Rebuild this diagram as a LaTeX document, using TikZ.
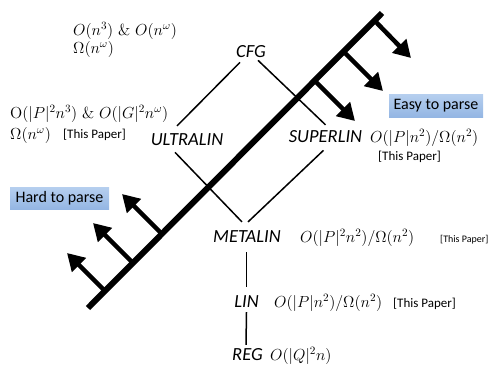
\RequirePackage{fix-cm}
\documentclass[tikz,border=0pt]{standalone}
\usepackage[no-math]{fontspec}
\newfontfamily\calib{Carlito}
\usetikzlibrary{arrows.meta,calc}
\definecolor{boxtop}{HTML}{B6CFEF}
\definecolor{boxbot}{HTML}{94B6E3}
\begin{document}
\begin{tikzpicture}[x=1pt,y=-1pt,
  lbl/.style={font=\calib\itshape\fontsize{18.5}{20}\selectfont, inner sep=0pt, anchor=base},
  mth/.style={font=\fontsize{16}{18}\selectfont, inner sep=0pt, anchor=base west},
  paper/.style={font=\calib\fontsize{13}{15}\selectfont, inner sep=0pt, anchor=base west},
  tagbox/.style={font=\calib\fontsize{16}{18}\selectfont, top color=boxtop, bottom color=boxbot, draw=none, inner sep=0pt},
  edge/.style={line width=1.5pt},
  mainline/.style={line width=6pt},
  bigarrow/.style={line width=4.5pt, -{Triangle[width=19pt,length=17pt]}},
]
\clip (0,0) rectangle (491,367);

% main divider
\coordinate (L0) at (88,308);
\coordinate (L1) at (382,13);
\draw[mainline] (L0) -- (L1);

% easy side arrows
\coordinate (r1s) at (375,21);  \coordinate (r1e) at (411,58);
\coordinate (r2s) at (344,52);  \coordinate (r2e) at (383,91);
\coordinate (r3s) at (315,81);  \coordinate (r3e) at (355,121);
\draw[bigarrow] (r1s) -- (r1e);
\draw[bigarrow] (r2s) -- (r2e);
\draw[bigarrow] (r3s) -- (r3e);

% hard side arrows
\coordinate (l1s) at (162,234); \coordinate (l1e) at (122,194);
\coordinate (l2s) at (133,263); \coordinate (l2e) at (93,223);
\coordinate (l3s) at (105,291); \coordinate (l3e) at (67,253);
\draw[bigarrow] (l1s) -- (l1e);
\draw[bigarrow] (l2s) -- (l2e);
\draw[bigarrow] (l3s) -- (l3e);

% tags
\node[tagbox, minimum width=94pt, minimum height=23pt] (easy) at (436,105.5) {Easy to parse};
\node[tagbox, minimum width=99pt, minimum height=22pt] (hard) at (59.5,198) {Hard to parse};

% class labels
\node[lbl] (cfg) at (251,57) {CFG};
\node[lbl] (ultra) at (187,145) {ULTRALIN};
\node[lbl] (super) at (325.5,142) {SUPERLIN};
\node[lbl] (meta) at (247,242) {METALIN};
\node[lbl] (lin) at (246.5,307) {LIN};
\node[lbl] (reg) at (247.5,360) {REG};

% hierarchy edges
\draw[edge] ([shift={(-11,5)}]cfg.south) -- ([shift={(-10,-7)}]ultra.north);
\draw[edge] ([shift={(7,3)}]cfg.south) -- ([shift={(0,-5)}]super.north);
\draw[edge] ([shift={(-12,7)}]ultra.south) -- ([shift={(-5,-8)}]meta.north);
\draw[edge] ([shift={(-2,8)}]super.south) -- ([shift={(1,-8)}]meta.north);
\draw[edge] ([shift={(-0.5,10)}]meta.south) -- ([shift={(0,-8)}]lin.north);
\draw[edge] ([shift={(0,5)}]lin.south) -- ([shift={(-1.5,-3)}]reg.north);

% complexities
\node[mth] (c1a) at (73,35) {$O(n^3)\ \&\ O(n^\omega)$};
\node[mth] (c1b) at (73,53) {$\Omega(n^\omega)$};
\node[mth] (c2a) at (10,118) {$\mathrm{O}(|P|^2n^3)\ \&\ O(|G|^2n^\omega)$};
\node[mth] (c2b) at (10,139) {$\Omega(n^\omega)$};
\node[paper] (p2) at (63,138) {[This Paper]};
\node[mth] (c3) at (370,142) {$O(|P|n^2)/\Omega(n^2)$};
\node[paper] (p3) at (378,160) {[This Paper]};
\node[mth] (c4) at (300,242) {$O(|P|^2n^2)/\Omega(n^2)$};
\node[paper, font=\calib\fontsize{10}{12}\selectfont] (p4) at (440,242) {[This Paper]};
\node[mth] (c5) at (274,307) {$O(|P|n^2)/\Omega(n^2)$};
\node[paper] (p5) at (393,307) {[This Paper]};
\node[mth] (c6) at (270,360) {$O(|Q|^2n)$};
\end{tikzpicture}
\end{document}
